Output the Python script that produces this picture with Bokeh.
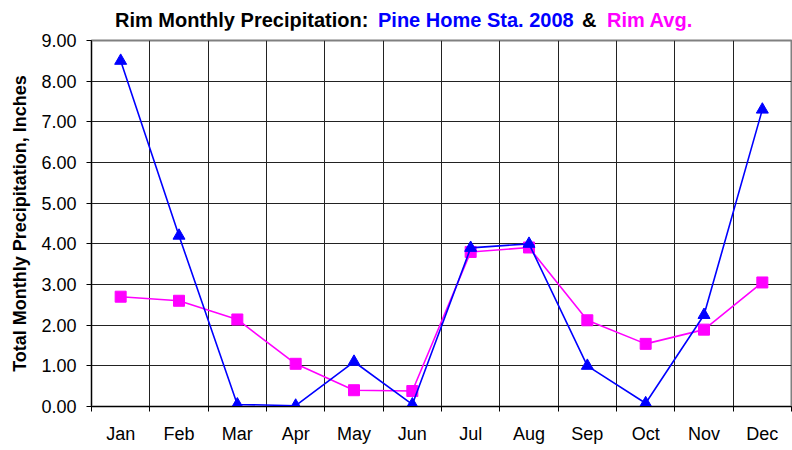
from bokeh.plotting import figure
from bokeh.models import FixedTicker, Range1d, ColumnDataSource, NumeralTickFormatter, Div
from bokeh.layouts import column
from bokeh.embed import file_html
from bokeh.resources import INLINE

months = ["Jan", "Feb", "Mar", "Apr", "May", "Jun", "Jul", "Aug", "Sep", "Oct", "Nov", "Dec"]
pine_2008 = [8.50, 4.20, 0.05, 0.02, 1.10, 0.05, 3.90, 4.00, 1.00, 0.08, 2.25, 7.30]
rim_avg = [2.70, 2.60, 2.14, 1.05, 0.40, 0.38, 3.80, 3.91, 2.12, 1.54, 1.89, 3.05]
y_ticks = [0, 1, 2, 3, 4, 5, 6, 7, 8, 9]

xpos = [i + 0.5 for i in range(len(months))]
src = ColumnDataSource(dict(x=xpos, pine=pine_2008, rim=rim_avg))

FONT = "Liberation Sans"

p = figure(width=792, height=420, output_backend="svg", toolbar_location=None,
           x_range=Range1d(0, len(months)), y_range=Range1d(0, 9),
           min_border_left=91, min_border_right=1, min_border_top=10, min_border_bottom=44,
           margin=(0, 0, 0, 0))
p.background_fill_color = "white"
p.border_fill_color = "white"
p.outline_line_color = "#808080"
p.outline_line_width = 2

# grid
p.xgrid.ticker = FixedTicker(ticks=list(range(len(months) + 1)))
p.ygrid.ticker = FixedTicker(ticks=y_ticks)
for g in (p.xgrid, p.ygrid):
    g.grid_line_color = "#222222"
    g.grid_line_width = 1

# x axis
xa = p.xaxis[0]
xa.ticker = FixedTicker(ticks=xpos, minor_ticks=list(range(len(months) + 1)))
xa.major_label_overrides = {x: m for x, m in zip(xpos, months)}
xa.major_tick_out = 0
xa.major_tick_in = 0
xa.minor_tick_out = 5
xa.minor_tick_in = 0
xa.minor_tick_line_color = "black"
xa.axis_line_color = "black"
xa.major_label_standoff = 12
xa.major_label_text_font = FONT
xa.major_label_text_font_size = "18px"
xa.major_label_text_color = "black"

# y axis
ya = p.yaxis[0]
ya.ticker = FixedTicker(ticks=y_ticks)
ya.formatter = NumeralTickFormatter(format="0.00")
ya.major_tick_out = 5
ya.major_tick_in = 0
ya.minor_tick_out = 0
ya.minor_tick_in = 0
ya.axis_line_color = "black"
ya.major_label_standoff = 10
ya.major_label_text_font = FONT
ya.major_label_text_font_size = "18px"
ya.major_label_text_color = "black"
ya.axis_label = "Total Monthly Precipitation, Inches"
ya.axis_label_text_font = FONT
ya.axis_label_text_font_size = "18px"
ya.axis_label_text_font_style = "bold"
ya.axis_label_text_color = "black"
ya.axis_label_standoff = 8

# series
p.line("x", "rim", source=src, line_color="#FF00FF", line_width=1.6)
p.scatter("x", "rim", source=src, marker="square", size=11, fill_color="#FF00FF", line_color="#FF00FF")
p.line("x", "pine", source=src, line_color="#0000FF", line_width=1.6)
p.scatter("x", "pine", source=src, marker="triangle", size=12, fill_color="#0000FF", line_color="#0000FF")

# multi-colour title
title_parts = [("Rim Monthly Precipitation:", "black", 115),
               ("Pine Home Sta. 2008", "#0000FF", 378),
               ("&amp;", "black", 582),
               ("Rim Avg.", "#FF00FF", 607)]
spans = "".join(
    f'<span style="position:absolute;left:{xs}px;top:10px;color:{col};white-space:nowrap;">{txt}</span>'
    for txt, col, xs in title_parts)
html = (f'<div style="position:relative;width:792px;height:30px;font-family:\'{FONT}\';'
        f'font-size:20px;font-weight:bold;line-height:20px;">{spans}</div>')
title_div = Div(text=html, width=792, height=30, margin=(0, 0, 0, 0))

layout = column(title_div, p, spacing=0, margin=(0, 0, 0, 0))
open("out.html", "w").write(file_html(layout, INLINE))
